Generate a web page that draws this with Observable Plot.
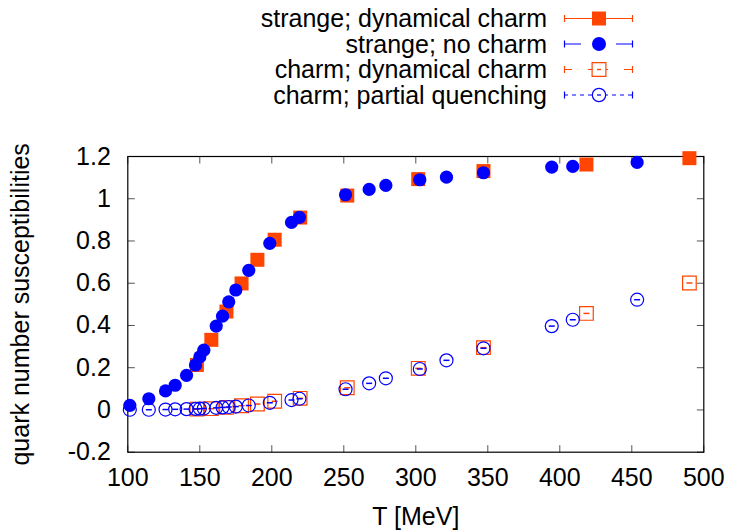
<!DOCTYPE html>
<html><head><meta charset="utf-8">
<script src="https://cdn.jsdelivr.net/npm/d3@7"></script>
<script src="https://cdn.jsdelivr.net/npm/@observablehq/plot@0.6"></script>
<style>
body{margin:0;background:#fff;font-family:"Liberation Sans",Arial,Helvetica,sans-serif}
svg{display:block}
</style>
</head><body><div id="chart"></div>
<script>
// ---- data ----
const seriesLabels = ["strange; dynamical charm", "strange; no charm", "charm; dynamical charm", "charm; partial quenching"];
const T_dyn = [148, 158, 168.5, 179, 190, 202, 219.7, 252.4, 301.7, 347, 418.5, 490];
const chiS_dyn = [0.213, 0.332, 0.466, 0.599, 0.711, 0.806, 0.911, 1.015, 1.093, 1.131, 1.162, 1.192];
const chiC_dyn = [0.004, 0.006, 0.012, 0.020, 0.028, 0.041, 0.055, 0.105, 0.197, 0.295, 0.457, 0.601];
const T_pq = [101.4, 114.6, 126.2, 132.9, 140.8, 147, 150, 152.8, 161.4, 165.8, 170.1, 175, 184, 198.6, 213.7, 219.2, 251.2, 267.6, 279.2, 302.8, 321.3, 347, 394.4, 409, 453.7];
const chiS_nc = [0.022, 0.053, 0.090, 0.117, 0.164, 0.213, 0.251, 0.283, 0.397, 0.444, 0.512, 0.568, 0.661, 0.789, 0.888, 0.912, 1.019, 1.044, 1.063, 1.090, 1.102, 1.123, 1.150, 1.153, 1.172];
const chiC_pq = [0.001, 0.001, 0.002, 0.003, 0.004, 0.005, 0.006, 0.007, 0.010, 0.012, 0.014, 0.016, 0.021, 0.034, 0.047, 0.053, 0.098, 0.126, 0.150, 0.194, 0.235, 0.292, 0.397, 0.427, 0.522];
const xTicks = [100, 150, 200, 250, 300, 350, 400, 450, 500];
const yTicks = [-0.2, 0, 0.2, 0.4, 0.6, 0.8, 1.0, 1.2];
const xLabel = "T [MeV]";
const yLabel = "quark number susceptibilities";

// ---- styles ----
const ORANGE = "#ff4500", BLUE = "#0000ff";
const FONT = '"Liberation Sans", Arial, Helvetica, sans-serif';
const FS = 25;

const dyn = T_dyn.map((T, i) => ({T, s: chiS_dyn[i], c: chiC_dyn[i]}));
const pq = T_pq.map((T, i) => ({T, s: chiS_nc[i], c: chiC_pq[i]}));

// ---- legend ----
const legendStyles = [
  {color: ORANGE, dash: null, type: d3.symbolSquare, size: 196, filled: true},
  {color: BLUE, dash: "17 35 17", type: d3.symbolCircle, size: 154, filled: true},
  {color: ORANGE, dash: "8 16 20 16 8", type: d3.symbolSquare, size: 190, filled: false},
  {color: BLUE, dash: "4 4", type: d3.symbolCircle, size: 140, filled: false}
];
const leg = d3.create("svg").attr("width", 729).attr("height", 110)
  .style("font-family", FONT).style("font-size", FS + "px");
seriesLabels.forEach((lab, i) => {
  const st = legendStyles[i];
  const y = 18.5 + i * 25.5;
  leg.append("text").attr("x", 547).attr("y", y).attr("dy", "0.35em")
    .attr("text-anchor", "end").attr("fill", "black").text(lab);
  leg.append("line").attr("x1", 564).attr("x2", 633).attr("y1", y).attr("y2", y)
    .attr("stroke", st.color).attr("stroke-width", 1.2)
    .attr("stroke-dasharray", st.dash);
  for (const x of [564.5, 632.5])
    leg.append("line").attr("x1", x).attr("x2", x).attr("y1", y - 3.5).attr("y2", y + 3.5)
      .attr("stroke", st.color).attr("stroke-width", 1.2);
  leg.append("path").attr("d", d3.symbol(st.type, st.size)())
    .attr("transform", `translate(599,${y})`)
    .attr("fill", st.filled ? st.color : "white")
    .attr("stroke", st.filled ? "none" : st.color).attr("stroke-width", 1.2);
  if (!st.filled)
    leg.append("line").attr("x1", 597).attr("x2", 601).attr("y1", y).attr("y2", y)
      .attr("stroke", st.color).attr("stroke-width", 1.3);
});
document.getElementById("chart").appendChild(leg.node());

// ---- custom symbols ----
const errDash = {draw(ctx) { ctx.moveTo(-3, 0); ctx.lineTo(3, 0); }};
const tickUp = {draw(ctx) { ctx.moveTo(0, 0); ctx.lineTo(0, -7); }};
const tickDown = {draw(ctx) { ctx.moveTo(0, 0); ctx.lineTo(0, 7); }};
const tickRight = {draw(ctx) { ctx.moveTo(0, 0); ctx.lineTo(7, 0); }};
const tickLeft = {draw(ctx) { ctx.moveTo(0, 0); ctx.lineTo(-7, 0); }};
const TICKC = "#555";

const chart = Plot.plot({
  width: 729, height: 422,
  marginTop: 46, marginBottom: 80.3, marginLeft: 127.3, marginRight: 25.7,
  style: {fontFamily: FONT, fontSize: FS + "px", color: "black", background: "white"},
  x: {domain: [100, 500]},
  y: {domain: [-0.2, 1.2]},
  marks: [
    Plot.axisX({ticks: xTicks, tickSize: 0, tickPadding: 16.5, label: null, tickFormat: d => String(d)}),
    Plot.axisY({ticks: yTicks, tickSize: 0, tickPadding: 17, label: null, tickFormat: d => String(+d.toFixed(1))}),
    Plot.dot(xTicks, {x: d => d, frameAnchor: "bottom", symbol: tickUp, r: 3, fill: "none", stroke: TICKC, strokeWidth: 1}),
    Plot.dot(xTicks, {x: d => d, frameAnchor: "top", symbol: tickDown, r: 3, fill: "none", stroke: TICKC, strokeWidth: 1}),
    Plot.dot(yTicks, {y: d => d, frameAnchor: "left", symbol: tickRight, r: 3, fill: "none", stroke: TICKC, strokeWidth: 1}),
    Plot.dot(yTicks, {y: d => d, frameAnchor: "right", symbol: tickLeft, r: 3, fill: "none", stroke: TICKC, strokeWidth: 1}),
    Plot.frame({stroke: "black", strokeWidth: 1.2}),
    Plot.dot(dyn, {x: "T", y: "s", symbol: "square", r: 7.9, fill: ORANGE, stroke: null}),
    Plot.dot(pq, {x: "T", y: "s", symbol: "circle", r: 6.6, fill: BLUE, stroke: null}),
    Plot.dot(dyn, {x: "T", y: "c", symbol: "square", r: 7.7, fill: "none", stroke: ORANGE, strokeWidth: 1.2}),
    Plot.dot(dyn, {x: "T", y: "c", symbol: errDash, r: 3, fill: "none", stroke: ORANGE, strokeWidth: 1.5}),
    Plot.dot(pq, {x: "T", y: "c", symbol: "circle", r: 6.5, fill: "none", stroke: BLUE, strokeWidth: 1.2}),
    Plot.dot(pq, {x: "T", y: "c", symbol: errDash, r: 3, fill: "none", stroke: BLUE, strokeWidth: 1.5}),
    Plot.text([xLabel], {text: d => d, frameAnchor: "bottom", dy: 65, lineAnchor: "middle", textAnchor: "middle", fontSize: FS, fill: "black"}),
    Plot.text([yLabel], {text: d => d, frameAnchor: "left", dx: -107, rotate: -90, lineAnchor: "middle", textAnchor: "middle", fontSize: FS, fill: "black"})
  ]
});
document.getElementById("chart").appendChild(chart);
</script>
</body></html>
